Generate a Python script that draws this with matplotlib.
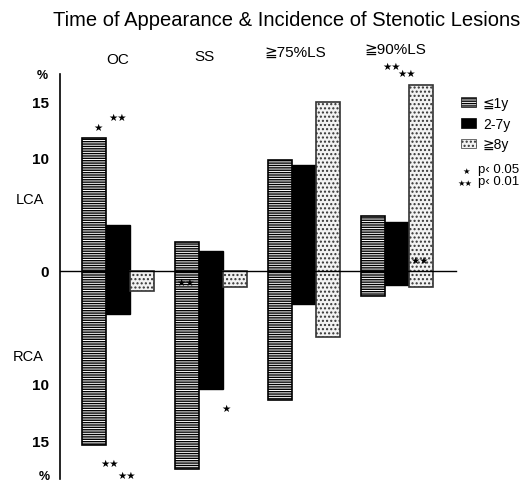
import matplotlib
matplotlib.use("Agg")
import matplotlib.pyplot as plt
from matplotlib.patches import Patch
import numpy as np

plt.rcParams['font.family'] = ['Liberation Sans', 'DejaVu Sans']
plt.rcParams['hatch.linewidth'] = 1.0

groups = ["OC", "SS", "≧75%LS", "≧90%LS"]
periods = ["≦1y", "2-7y", "≧8y"]
# LCA incidence (%) plotted upward, RCA incidence (%) plotted downward
lca = {
    "≦1y":  [11.8, 2.6, 9.8, 4.9],
    "2-7y": [4.1, 1.8, 9.4, 4.3],
    "≧8y":  [0.0, 0.0, 15.0, 16.5],
}
rca = {
    "≦1y":  [15.4, 17.5, 11.4, 2.2],
    "2-7y": [3.8, 10.4, 2.9, 1.2],
    "≧8y":  [1.8, 1.4, 5.8, 1.4],
}
ytick_vals = [15, 10, 0, -10, -15]
ytick_labels = ["15", "10", "0", "10", "15"]

W, H = 529, 485
fig = plt.figure(figsize=(W / 100, H / 100), dpi=100)

ax_left, ax_right, ax_top, ax_bot = 60, 460, 75, 480
ax = fig.add_axes([ax_left / W, (H - ax_bot) / H, (ax_right - ax_left) / W, (ax_bot - ax_top) / H])
ppu_y = 11.3
zero_px = 272
ax.set_ylim(-(ax_bot - zero_px) / ppu_y, (zero_px - ax_top) / ppu_y)
ppu_x = 93.0
g0 = 118.0
ax.set_xlim((ax_left - g0) / ppu_x, (ax_right - g0) / ppu_x)

styles = {
    "≦1y":  dict(facecolor="white", edgecolor="black", hatch="-------", linewidth=1.2),
    "2-7y": dict(facecolor="black", edgecolor="black", linewidth=1.0),
    "≧8y":  dict(facecolor="#f2f2f2", edgecolor="#333333", hatch="....", linewidth=1.2),
}
bw = 0.255
x = np.arange(len(groups))
for i, p in enumerate(periods):
    up = np.array(lca[p]); dn = np.array(rca[p])
    ax.bar(x + (i - 1) * bw, up + dn, bottom=-dn, width=bw, **styles[p])

ax.axhline(0, color="black", lw=1.0, xmax=0.99)
for s in ["top", "right", "bottom"]:
    ax.spines[s].set_visible(False)
ax.spines["left"].set_linewidth(1.2)
ax.set_xticks([])
ax.set_yticks(ytick_vals)
ax.set_yticklabels(ytick_labels, fontsize=11, fontweight="bold")
ax.tick_params(axis="y", length=0, pad=8)

def ftxt(px, py, s, **kw):
    fig.text(px / W, 1 - py / H, s, **kw)

# group labels above (slightly tilted scan: labels rise to the right)
label_dx = [0.0, -0.07, -0.09, -0.02]
label_py = [60, 57, 53, 50]
for gi, g in enumerate(groups):
    px = g0 + (x[gi] + label_dx[gi]) * ppu_x
    ftxt(px, label_py[gi], g, ha="center", va="center", fontsize=11)

ftxt(287, 20, "Time of Appearance & Incidence of Stenotic Lesions",
     ha="center", va="center", fontsize=14.5)

ftxt(48, 76, "%", ha="right", va="center", fontsize=9, fontweight="bold")
ftxt(50, 477, "%", ha="right", va="center", fontsize=9, fontweight="bold")
ftxt(30, 200, "LCA", ha="center", va="center", fontsize=10.5)
ftxt(28, 357, "RCA", ha="center", va="center", fontsize=10.5)

# significance stars
star = dict(ha="center", va="center", fontsize=7.5, family=["DejaVu Sans"])
ftxt(98, 128, "★", **star)
ftxt(118, 118, "★★", **star)
ftxt(110, 464, "★★", **star)
ftxt(127, 476, "★★", **star)
ftxt(186, 283, "★★", **star)
ftxt(226, 409, "★", **star)
ftxt(392, 67, "★★", **star)
ftxt(407, 74, "★★", **star)
ftxt(420, 261, "★★", **star)

# legend
handles = [Patch(**{k: v for k, v in styles[p].items() if k != "linewidth"}, linewidth=0.5) for p in periods]
fig.legend(handles, periods, loc="upper left", bbox_to_anchor=(455 / W, 1 - 91 / H),
           frameon=False, fontsize=10, handlelength=1.1, handleheight=0.7,
           handletextpad=0.5, labelspacing=0.5, borderaxespad=0)
ftxt(466, 171, "★", ha="center", va="center", fontsize=6, family=["DejaVu Sans"])
ftxt(478, 170, "p‹ 0.05", ha="left", va="center", fontsize=9.5)
ftxt(465, 183, "★★", ha="center", va="center", fontsize=6, family=["DejaVu Sans"])
ftxt(478, 182, "p‹ 0.01", ha="left", va="center", fontsize=9.5)

fig.savefig("out.png", dpi=100)
